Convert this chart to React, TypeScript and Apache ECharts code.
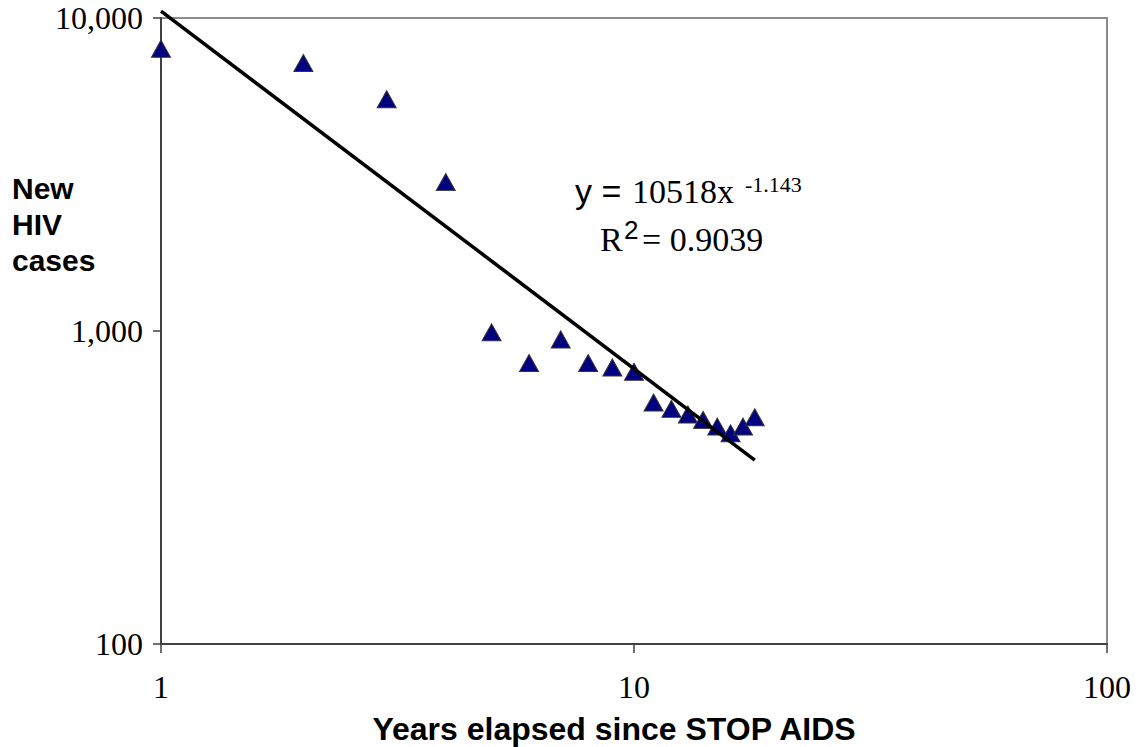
import React, { useEffect, useRef } from "react";
import * as echarts from "echarts";

const YEARS = [1, 2, 3, 4, 5, 6, 7, 8, 9, 10, 11, 12, 13, 14, 15, 16, 17, 18];
const NEW_CASES = [7980, 7180, 5500, 2990, 990, 790, 940, 790, 765, 741, 591, 564, 541, 520, 495, 471, 495, 530];
const TREND_X = [1, 18];
const TREND_Y = [10518, 387];
const X_TICKS = [1, 10, 100];
const Y_TICKS = [100, 1000, 10000];

export default function App() {
  const ref = useRef<HTMLDivElement>(null);
  useEffect(() => {
    if (!ref.current) return;
    const chart = echarts.init(ref.current, undefined, { renderer: "svg" });
    const serif = "'Liberation Serif', 'Times New Roman', serif";
    const sans = "'Liberation Sans', Arial, sans-serif";
    chart.setOption({
      animation: false,
      backgroundColor: "#ffffff",
      grid: {
        left: 161,
        right: 34,
        top: 18,
        bottom: 103,
        show: true,
        borderColor: "#8c8c8c",
        borderWidth: 2,
        backgroundColor: "transparent",
      },
      xAxis: {
        type: "log",
        logBase: 10,
        min: X_TICKS[0],
        max: X_TICKS[X_TICKS.length - 1],
        axisLine: { show: true, onZero: false, lineStyle: { color: "#404040", width: 2 } },
        axisTick: { show: true, length: 9, lineStyle: { color: "#404040", width: 1.5 } },
        minorTick: { show: false },
        splitLine: { show: false },
        axisLabel: {
          margin: 27,
          fontFamily: serif,
          fontSize: 32,
          color: "#000",
          formatter: (v: number) => String(Math.round(v)),
        },
      },
      yAxis: {
        type: "log",
        logBase: 10,
        min: Y_TICKS[0],
        max: Y_TICKS[Y_TICKS.length - 1],
        axisLine: { show: true, onZero: false, lineStyle: { color: "#404040", width: 2 } },
        axisTick: { show: true, length: 8, lineStyle: { color: "#404040", width: 1.5 } },
        splitLine: { show: false },
        axisLabel: {
          margin: 18,
          fontFamily: serif,
          fontSize: 32,
          color: "#000",
          formatter: (v: number) => Math.round(v).toLocaleString("en-US"),
        },
      },
      series: [
        {
          type: "scatter",
          data: YEARS.map((x, i) => [x, NEW_CASES[i]]),
          symbol: "triangle",
          symbolSize: [19, 17],
          itemStyle: { color: "#000080", borderColor: "#333333", borderWidth: 1, opacity: 1 },
          z: 3,
        },
        {
          type: "line",
          data: TREND_X.map((x, i) => [x, TREND_Y[i]]),
          symbol: "none",
          clip: false,
          lineStyle: { color: "#000000", width: 3.5 },
          z: 4,
        },
      ],
      graphic: [
        {
          type: "text",
          x: 614,
          y: 729,
          style: {
            text: "Years elapsed since STOP AIDS",
            font: `bold 32px ${sans}`,
            fill: "#000",
            align: "center",
            verticalAlign: "middle",
          },
        },
        {
          type: "text",
          left: 12,
          top: 170,
          style: {
            text: "New\nHIV\ncases",
            font: `bold 30px ${sans}`,
            lineHeight: 36,
            fill: "#000",
          },
        },
        {
          type: "text",
          x: 575,
          y: 191,
          style: { text: "y =", font: `34px ${sans}`, fill: "#000", verticalAlign: "middle" },
        },
        {
          type: "text",
          x: 632,
          y: 191,
          style: { text: "10518x", font: `34px ${serif}`, fill: "#000", verticalAlign: "middle" },
        },
        {
          type: "text",
          x: 745,
          y: 184,
          style: { text: "-1.143", font: `22px ${serif}`, fill: "#000", verticalAlign: "middle" },
        },
        {
          type: "text",
          x: 600,
          y: 239,
          style: { text: "R", font: `34px ${serif}`, fill: "#000", verticalAlign: "middle" },
        },
        {
          type: "text",
          x: 624,
          y: 230,
          style: { text: "2", font: `26px ${sans}`, fill: "#000", verticalAlign: "middle" },
        },
        {
          type: "text",
          x: 642,
          y: 239,
          style: { text: "= 0.9039", font: `34px ${serif}`, fill: "#000", verticalAlign: "middle" },
        },
      ],
    });
    return () => chart.dispose();
  }, []);
  return (
    <div
      ref={ref}
      style={{ position: "fixed", left: 0, top: 0, width: 1141, height: 747, background: "#fff" }}
    />
  );
}
